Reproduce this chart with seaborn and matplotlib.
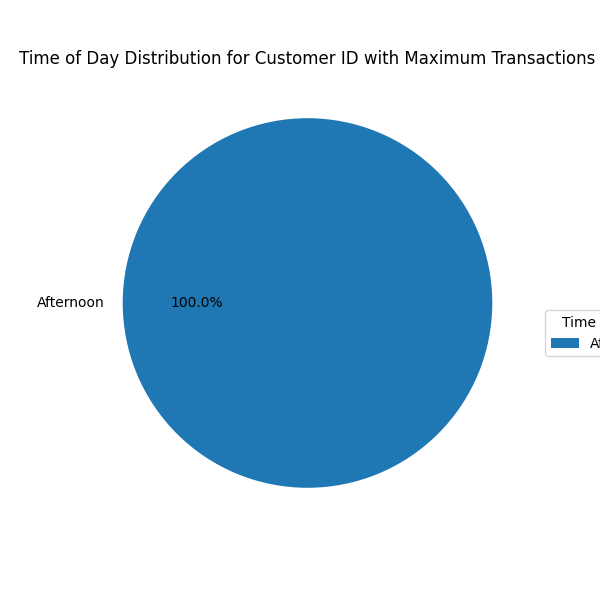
import matplotlib
matplotlib.use("Agg")
import matplotlib.pyplot as plt
import seaborn as sns

# time of day counts for the top customer
time_labels = ["Afternoon"]
time_counts = [1]

colors = sns.color_palette("tab10", len(time_labels))

fig, ax = plt.subplots(figsize=(6, 6), dpi=100)
wedges, texts, autotexts = ax.pie(time_counts, labels=time_labels, autopct="%1.1f%%",
                                  colors=colors)
ax.set_title("Time of Day Distribution for Customer ID with Maximum Transactions")
ax.legend(wedges, time_labels, title="Time of Day", loc="center left",
          bbox_to_anchor=(1.0, 0.435))

fig.savefig("out.png", dpi=100)
